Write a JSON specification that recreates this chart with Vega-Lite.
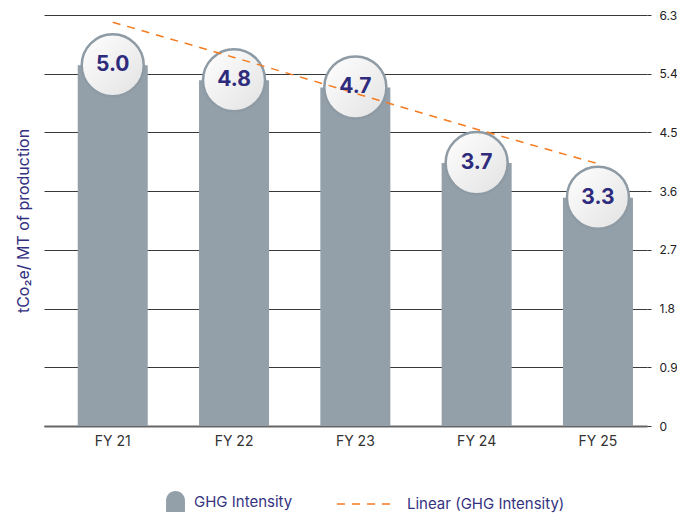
{
  "$schema": "https://vega.github.io/schema/vega-lite/v6.json",
  "width": 603,
  "height": 411,
  "autosize": "none",
  "padding": {"left": 44, "top": 15, "right": 30, "bottom": 87},
  "background": "white",
  "config": {
    "view": {"stroke": null},
    "font": "Inter",
    "legend": {"padding": 0}
  },
  "data": {
    "values": [
      {"fy": "FY 21", "bar": 5.53, "label": "5.0", "trend": 6.19},
      {"fy": "FY 22", "bar": 5.30, "label": "4.8", "trend": 5.65},
      {"fy": "FY 23", "bar": 5.19, "label": "4.7", "trend": 5.10},
      {"fy": "FY 24", "bar": 4.03, "label": "3.7", "trend": 4.55},
      {"fy": "FY 25", "bar": 3.50, "label": "3.3", "trend": 4.02}
    ]
  },
  "encoding": {
    "x": {
      "field": "fy",
      "type": "nominal",
      "sort": null,
      "scale": {"paddingInner": 0.423, "paddingOuter": 0.197, "align": 0.706},
      "axis": {
        "title": null,
        "labelAngle": 0,
        "ticks": false,
        "labelPadding": 8,
        "labelFont": "Inter",
        "labelFontSize": 14,
        "labelColor": "#333333",
        "domain": true,
        "domainColor": "#666666",
        "domainWidth": 2
      }
    }
  },
  "resolve": {"axis": {"y": "independent"}},
  "layer": [
    {
      "mark": {"type": "bar"},
      "encoding": {
        "y": {
          "field": "bar",
          "type": "quantitative",
          "scale": {"domain": [0, 6.3], "nice": false},
          "axis": {
            "orient": "right",
            "title": null,
            "values": [0, 0.9, 1.8, 2.7, 3.6, 4.5, 5.4, 6.3],
            "labelExpr": "datum.value == 0 ? '0' : format(datum.value, '.1f')",
            "grid": true,
            "gridColor": "#3a3a3a",
            "gridWidth": 1,
            "domain": false,
            "ticks": true,
            "tickSize": 4,
            "tickColor": "#3a3a3a",
            "labelPadding": 8,
            "labelFont": "Inter",
            "labelFontSize": 12,
            "labelColor": "#222222"
          }
        },
        "fill": {
          "datum": "GHG Intensity",
          "type": "nominal",
          "scale": {"range": ["#939fa9"]},
          "legend": {
            "title": null,
            "orient": "none",
            "legendX": 121,
            "legendY": 476,
            "symbolType": "M-0.9,1L-0.9,-0.1A0.9,0.9 0 0 1 0.9,-0.1L0.9,1Z",
            "symbolSize": 441,
            "symbolStrokeWidth": 0,
            "labelFont": "Inter",
            "labelFontSize": 15,
            "labelColor": "#35337f",
            "labelOffset": 8
          }
        }
      }
    },
    {
      "mark": {
        "type": "point",
        "shape": "circle",
        "size": 3850,
        "filled": true,
        "opacity": 1,
        "fill": {
          "gradient": "linear",
          "x1": 0, "y1": 0, "x2": 1, "y2": 1,
          "stops": [
            {"offset": 0, "color": "#ffffff"},
            {"offset": 1, "color": "#e2e2e2"}
          ]
        },
        "stroke": "#8e9ba5",
        "strokeWidth": 2.5
      },
      "encoding": {
        "y": {
          "field": "bar",
          "type": "quantitative",
          "axis": {
            "orient": "left",
            "title": "tCo₂e/ MT of production",
            "titleFont": "Inter",
            "titleFontSize": 16,
            "titleFontWeight": "normal",
            "titleColor": "#33307f",
            "titlePadding": 13,
            "labels": false,
            "ticks": false,
            "domain": false,
            "grid": false
          }
        }
      }
    },
    {
      "mark": {"type": "line", "strokeDash": [8, 7], "strokeWidth": 1.5},
      "encoding": {
        "y": {"field": "trend", "type": "quantitative", "axis": null},
        "stroke": {
          "datum": "Linear (GHG Intensity)",
          "type": "nominal",
          "scale": {"range": ["#f47b20"]},
          "legend": {
            "title": null,
            "orient": "none",
            "legendX": 292,
            "legendY": 460,
            "symbolType": "stroke",
            "symbolSize": 3136,
            "symbolDash": [8, 7],
            "symbolStrokeWidth": 1.5,
            "labelFont": "Inter",
            "labelFontSize": 15,
            "labelColor": "#35337f",
            "labelOffset": 13
          }
        }
      }
    },
    {
      "mark": {
        "type": "text",
        "font": "Inter",
        "fontSize": 21,
        "fontWeight": "bold",
        "letterSpacing": -1,
        "color": "#2e2b7d",
        "baseline": "middle",
        "align": "center"
      },
      "encoding": {
        "y": {"field": "bar", "type": "quantitative", "axis": null},
        "text": {"field": "label"}
      }
    }
  ]
}
